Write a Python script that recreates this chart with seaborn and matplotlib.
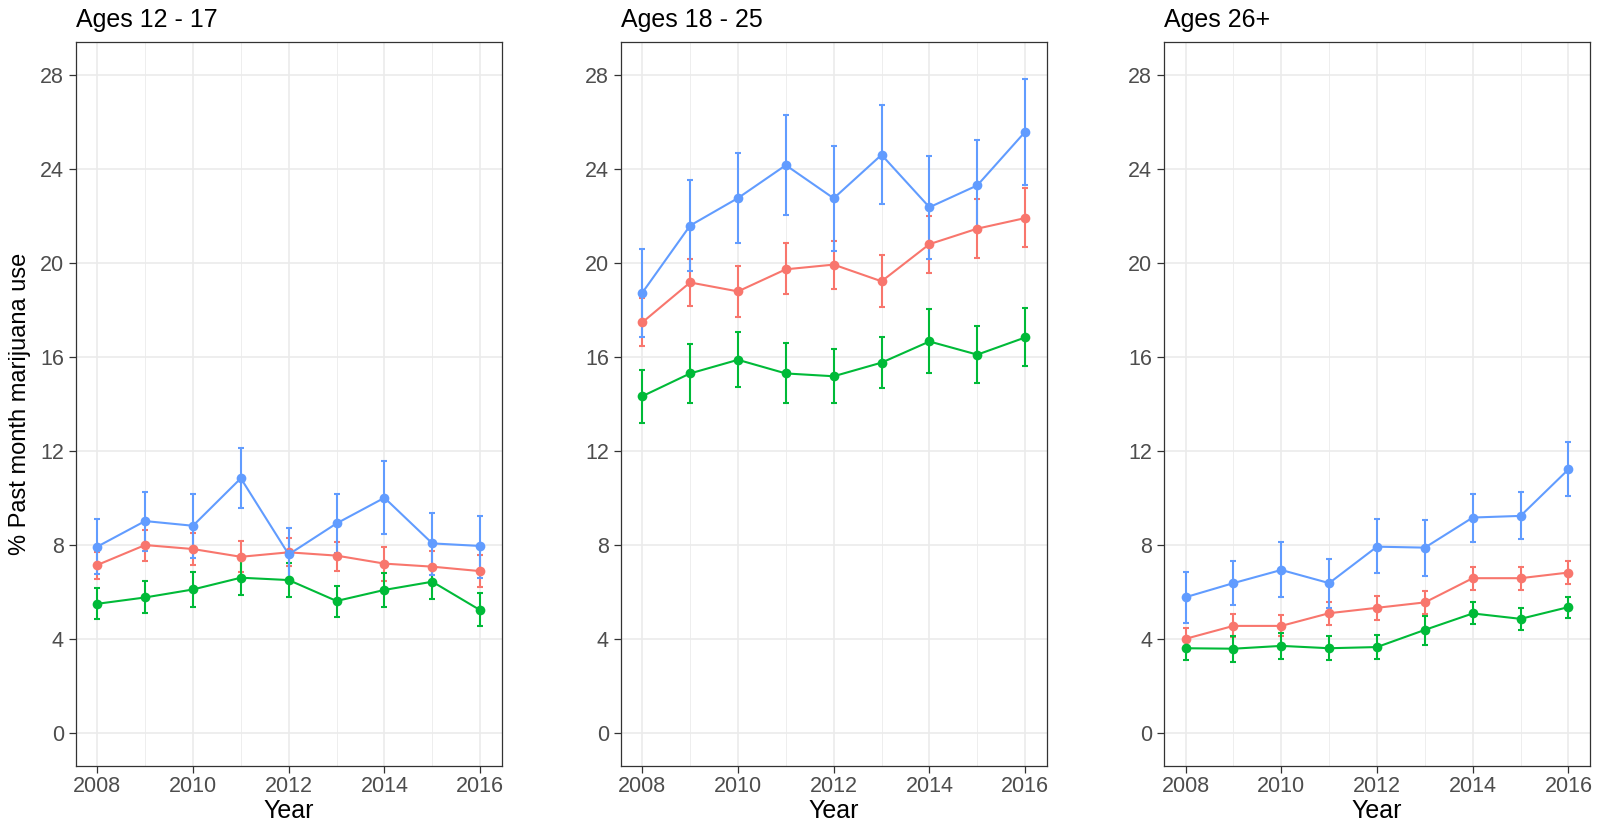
import numpy as np
import pandas as pd
import matplotlib
matplotlib.use("Agg")
import matplotlib.pyplot as plt
import seaborn as sns

years = [2008, 2009, 2010, 2011, 2012, 2013, 2014, 2015, 2016]
panels = ["Ages 12 - 17", "Ages 18 - 25", "Ages 26+"]
groups = ["A", "B", "C"]
colors = {"A": "#F8766D", "B": "#00BA38", "C": "#619CFF"}

# Ages 12 - 17
p1_A = [7.15, 8.00, 7.83, 7.50, 7.69, 7.55, 7.21, 7.08, 6.89]
p1_A_lo = [6.55, 7.32, 7.15, 6.84, 7.12, 6.91, 6.48, 6.45, 6.20]
p1_A_hi = [7.72, 8.64, 8.52, 8.17, 8.31, 8.14, 7.93, 7.76, 7.57]
p1_B = [5.50, 5.77, 6.11, 6.61, 6.51, 5.62, 6.09, 6.44, 5.23]
p1_B_lo = [4.84, 5.09, 5.38, 5.86, 5.77, 4.95, 5.35, 5.69, 4.55]
p1_B_hi = [6.17, 6.47, 6.85, 7.36, 7.25, 6.26, 6.82, 7.10, 5.94]
p1_C = [7.93, 9.02, 8.82, 10.84, 7.60, 8.92, 10.01, 8.07, 7.96]
p1_C_lo = [6.75, 7.76, 7.43, 9.56, 6.51, 7.65, 8.47, 6.72, 6.61]
p1_C_hi = [9.12, 10.27, 10.18, 12.11, 8.74, 10.18, 11.57, 9.37, 9.23]

# Ages 18 - 25
p2_A = [17.47, 19.17, 18.79, 19.73, 19.93, 19.22, 20.80, 21.46, 21.91]
p2_A_lo = [16.45, 18.16, 17.71, 18.66, 18.90, 18.13, 19.58, 20.22, 20.67]
p2_A_hi = [18.50, 20.17, 19.86, 20.84, 20.95, 20.34, 22.01, 22.72, 23.17]
p2_B = [14.33, 15.30, 15.88, 15.30, 15.18, 15.76, 16.66, 16.10, 16.83]
p2_B_lo = [13.21, 14.04, 14.74, 14.05, 14.05, 14.68, 15.33, 14.91, 15.62]
p2_B_hi = [15.46, 16.56, 17.07, 16.59, 16.32, 16.85, 18.04, 17.33, 18.08]
p2_C = [18.73, 21.59, 22.76, 24.16, 22.75, 24.60, 22.37, 23.30, 25.58]
p2_C_lo = [16.85, 19.65, 20.84, 22.06, 20.50, 22.51, 20.17, 21.35, 23.31]
p2_C_hi = [20.60, 23.53, 24.69, 26.30, 24.97, 26.73, 24.56, 25.24, 27.84]

# Ages 26+
p3_A = [4.01, 4.56, 4.56, 5.10, 5.33, 5.56, 6.59, 6.59, 6.83]
p3_A_lo = [3.60, 4.08, 4.11, 4.58, 4.82, 5.06, 6.09, 6.09, 6.33]
p3_A_hi = [4.45, 5.06, 5.02, 5.58, 5.84, 6.05, 7.08, 7.08, 7.33]
p3_B = [3.61, 3.59, 3.71, 3.61, 3.66, 4.39, 5.09, 4.86, 5.36]
p3_B_lo = [3.12, 3.02, 3.15, 3.09, 3.15, 3.76, 4.63, 4.39, 4.89]
p3_B_hi = [4.00, 4.15, 4.25, 4.14, 4.18, 4.99, 5.56, 5.31, 5.81]
p3_C = [5.78, 6.38, 6.94, 6.38, 7.93, 7.89, 9.17, 9.24, 11.22]
p3_C_lo = [4.69, 5.43, 5.77, 5.33, 6.79, 6.70, 8.15, 8.25, 10.10]
p3_C_hi = [6.87, 7.33, 8.13, 7.42, 9.12, 9.07, 10.17, 10.24, 12.38]

y_ticks = [0, 4, 8, 12, 16, 20, 24, 28]
x_ticks = [2008, 2010, 2012, 2014, 2016]

series = {
    panels[0]: {"A": (p1_A, p1_A_lo, p1_A_hi), "B": (p1_B, p1_B_lo, p1_B_hi), "C": (p1_C, p1_C_lo, p1_C_hi)},
    panels[1]: {"A": (p2_A, p2_A_lo, p2_A_hi), "B": (p2_B, p2_B_lo, p2_B_hi), "C": (p2_C, p2_C_lo, p2_C_hi)},
    panels[2]: {"A": (p3_A, p3_A_lo, p3_A_hi), "B": (p3_B, p3_B_lo, p3_B_hi), "C": (p3_C, p3_C_lo, p3_C_hi)},
}

rows = []
for pn, d in series.items():
    for g, (m, lo, hi) in d.items():
        for i, yr in enumerate(years):
            rows.append(dict(panel=pn, group=g, Year=yr, value=m[i], lo=lo[i], hi=hi[i]))
df = pd.DataFrame(rows)

sns.set_theme(style="white")
plt.rcParams["font.family"] = ["Liberation Sans", "DejaVu Sans"]

W, H = 1597, 825
fig = plt.figure(figsize=(W / 100, H / 100), dpi=100)
lefts = [75.7, 620.7, 1164.0]
ax_w, ax_top, ax_bot = 426.0, 42.0, 766.0
for k, pn in enumerate(panels):
    ax = fig.add_axes([lefts[k] / W, 1 - ax_bot / H, ax_w / W, (ax_bot - ax_top) / H])
    sub = df[df.panel == pn]
    for g in groups:
        s = sub[sub.group == g]
        ax.errorbar(s.Year, s.value, yerr=[s.value - s.lo, s.hi - s.value], fmt="none",
                    ecolor=colors[g], elinewidth=1.5, capsize=1.9, capthick=1.5, zorder=2)
    sns.lineplot(data=sub, x="Year", y="value", hue="group", hue_order=groups, palette=colors,
                 marker="o", markersize=7, markeredgewidth=0, linewidth=1.5, legend=False,
                 errorbar=None, ax=ax, zorder=3)
    ax.set_xlim(2007.55, 2016.45)
    ax.set_ylim(-1.4, 29.4)
    ax.set_yticks(y_ticks)
    ax.set_xticks(x_ticks)
    ax.set_xticks(years, minor=True)
    ax.grid(True, which="major", color="#EBEBEB", linewidth=1.2, zorder=0)
    ax.grid(True, which="minor", axis="x", color="#EBEBEB", linewidth=0.6, zorder=0)
    ax.set_axisbelow(True)
    for sp in ax.spines.values():
        sp.set_color("#333333")
        sp.set_linewidth(0.9)
    ax.tick_params(axis="both", which="major", direction="out", length=5, width=0.9,
                   color="#333333", labelsize=15.5, labelcolor="#4D4D4D",
                   bottom=True, left=True)
    ax.tick_params(axis="x", which="major", pad=2)
    ax.tick_params(axis="y", which="major", pad=3.5)
    ax.tick_params(axis="x", which="minor", length=0, bottom=False)
    ax.set_title(pn, loc="left", fontsize=18, color="black", pad=11)
    ax.set_xlabel("Year", fontsize=18, color="black", labelpad=2)
    if k == 0:
        ax.set_ylabel("% Past month marijuana use", fontsize=17, color="black", labelpad=6)
    else:
        ax.set_ylabel("")

fig.savefig("out.png", dpi=100)
